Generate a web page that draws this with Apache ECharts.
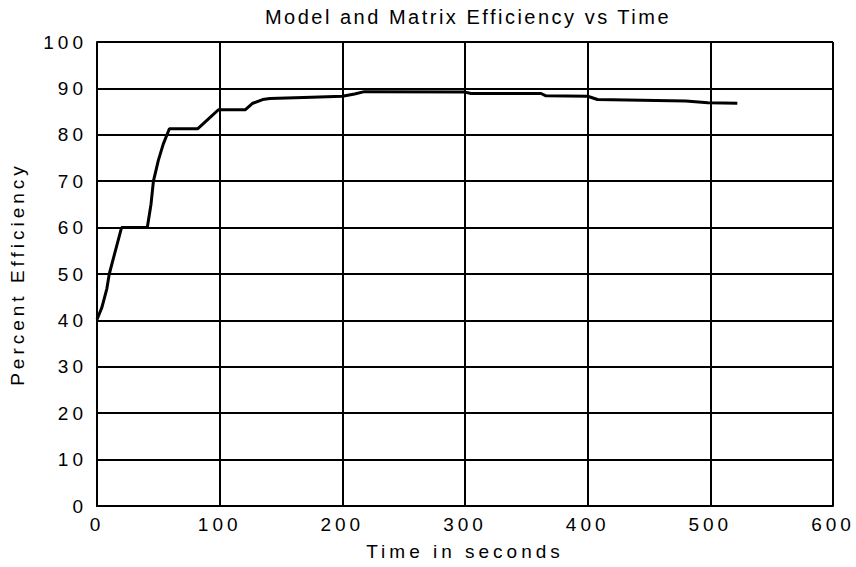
<!DOCTYPE html>
<html>
<head>
<meta charset="utf-8">
<script src="https://cdn.jsdelivr.net/npm/echarts@6/dist/echarts.min.js"></script>
<style>
  html, body { margin: 0; padding: 0; background: #fff; }
  #chart { width: 856px; height: 567px; }
</style>
</head>
<body>
<div id="chart"></div>
<script>
// data
const timeSec = [0, 4, 8, 10, 14, 20, 41, 44, 46, 50, 54, 59, 82, 90, 99, 121, 127, 135, 141, 175, 200, 210, 218, 300, 305, 362, 366, 400, 408, 480, 498, 522];
const efficiency = [40.2, 42.8, 46.8, 50, 54, 60, 60, 65, 70, 74.5, 78, 81.3, 81.3, 83.2, 85.4, 85.4, 86.8, 87.6, 87.8, 88.1, 88.3, 88.8, 89.3, 89.2, 88.9, 88.9, 88.4, 88.3, 87.6, 87.3, 86.9, 86.8];
const xTicks = [0, 100, 200, 300, 400, 500, 600];
const yTicks = [0, 10, 20, 30, 40, 50, 60, 70, 80, 90, 100];

const chart = echarts.init(document.getElementById('chart'), null, { renderer: 'svg' });

const font = 'Liberation Sans, Arial, sans-serif';
const lineBlack = { color: '#000', width: 2 };

const option = {
  animation: false,
  backgroundColor: '#fff',
  title: {
    text: 'Model and Matrix Efficiency vs Time',
    left: 463,
    textAlign: 'center',
    top: 2,
    textStyle: { fontFamily: font, fontSize: 20, fontWeight: 'normal', color: '#000' }
  },
  grid: { left: 96, right: 23, top: 42, bottom: 61, show: false },
  xAxis: {
    type: 'value',
    min: xTicks[0],
    max: xTicks[xTicks.length - 1],
    interval: 100,
    name: 'Time in seconds',
    nameLocation: 'middle',
    nameGap: 36,
    nameTextStyle: { fontFamily: font, fontSize: 19, color: '#000' },
    axisLine: { show: true, lineStyle: lineBlack },
    axisTick: { show: false },
    axisLabel: { fontFamily: font, fontSize: 19, color: '#000', margin: 9 },
    splitLine: { show: true, lineStyle: lineBlack }
  },
  yAxis: {
    type: 'value',
    min: yTicks[0],
    max: yTicks[yTicks.length - 1],
    interval: 10,
    name: 'Percent Efficiency',
    nameLocation: 'middle',
    nameGap: 70,
    nameTextStyle: { fontFamily: font, fontSize: 19, color: '#000' },
    axisLine: { show: true, lineStyle: lineBlack },
    axisTick: { show: false },
    axisLabel: { fontFamily: font, fontSize: 19, color: '#000', margin: 10 },
    splitLine: { show: true, lineStyle: lineBlack }
  },
  series: [{
    type: 'line',
    data: timeSec.map((t, i) => [t, efficiency[i]]),
    symbol: 'none',
    lineStyle: { color: '#000', width: 3 }
  }]
};

chart.setOption(option);

// the scanned chart uses spread-out lettering
const spreadText = () => {
  document.querySelectorAll('#chart text').forEach(el => {
    const size = parseFloat(getComputedStyle(el).fontSize);
    el.style.letterSpacing = size >= 20 ? '2.5px' : '4px';
  });
};
chart.on('finished', spreadText);
spreadText();
</script>
</body>
</html>
